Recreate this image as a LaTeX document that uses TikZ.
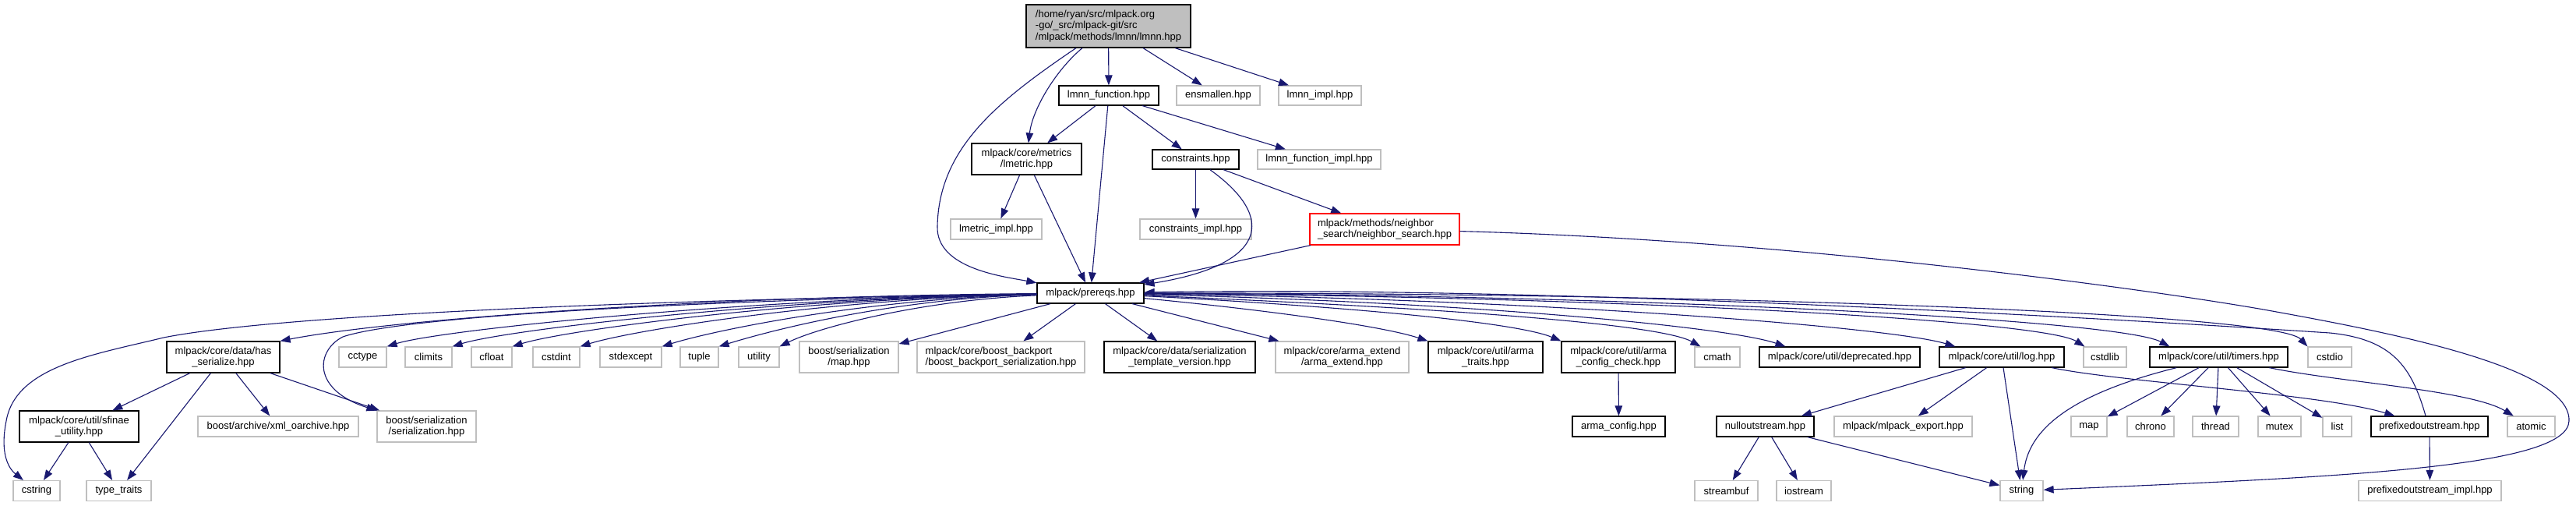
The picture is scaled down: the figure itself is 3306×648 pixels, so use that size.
\documentclass[tikz,border=0pt]{standalone}
\usepackage{fontspec}
\setmainfont{Liberation Sans}
\usetikzlibrary{arrows.meta}
\definecolor{edgeblue}{HTML}{191970}
\definecolor{greyb}{HTML}{BFBFBF}
\newcommand\nodefont{\fontsize{13pt}{14.5pt}\selectfont}
\newcommand\mknode[6]{\node[#1,minimum width=#4pt,minimum height=#5pt] (#2) at (#3) {#6};}
\tikzset{
  nb/.style={draw=black, fill=white, line width=1.2pt, inner sep=0pt, font=\nodefont, align=center},
  ng/.style={nb, draw=greyb},
  nr/.style={nb, draw=red},
  nroot/.style={nb, fill=greyb, draw=black},
  edge/.style={draw=edgeblue, line width=1.1pt, -{Triangle[length=13pt,width=9.5pt]}},
}
\begin{document}
\begin{tikzpicture}[x=1pt,y=-1pt]
\fill[white] (0,0) rectangle (3306,648);
\useasboundingbox (0,0) rectangle (3306,648);
% rows 0-4
\mknode{nroot,align=left}{root}{1422.5,33.5}{211}{55}{/home/ryan/src/mlpack.org\\-go/\_src/mlpack-git/src\\/mlpack/methods/lmnn/lmnn.hpp}
\mknode{nb}{lmnnfun}{1423,122.5}{128}{25}{lmnn\_function.hpp}
\mknode{ng}{ensmallen}{1563.5,122.5}{107}{25}{ensmallen.hpp}
\mknode{ng}{lmnnimpl}{1694,122.5}{106}{25}{lmnn\_impl.hpp}
\mknode{nb}{lmetric}{1317.5,204}{141}{40}{mlpack/core/metrics\\/lmetric.hpp}
\mknode{nb}{constraints}{1534.5,204.5}{111}{25}{constraints.hpp}
\mknode{ng}{lmnnfunimpl}{1693,204.5}{158}{25}{lmnn\_function\_impl.hpp}
\mknode{ng}{lmetricimpl}{1278.5,294}{117}{26}{lmetric\_impl.hpp}
\mknode{ng}{constraintsimpl}{1534.5,294}{143}{26}{constraints\_impl.hpp}
\mknode{nr,align=left}{neighbor}{1777,294}{192}{40}{mlpack/methods/neighbor\\\_search/neighbor\_search.hpp}
\mknode{nb}{prereqs}{1399.5,376}{137}{26}{mlpack/prereqs.hpp}
% row 5
\mknode{nb}{has}{286.5,458}{145}{40}{mlpack/core/data/has\\\_serialize.hpp}
\mknode{ng}{cctype}{465.5,458}{61}{26}{cctype}
\mknode{ng}{climits}{550,458}{60}{26}{climits}
\mknode{ng}{cfloat}{631,458}{52}{26}{cfloat}
\mknode{ng}{cstdint}{714,458}{60}{26}{cstdint}
\mknode{ng}{stdexcept}{809.5,458}{79}{26}{stdexcept}
\mknode{ng}{tuple}{897.5,458}{49}{26}{tuple}
\mknode{ng}{utility}{974,458}{52}{26}{utility}
\mknode{ng}{bmap}{1089.5,458}{127}{40}{boost/serialization\\/map.hpp}
\mknode{ng,align=left}{backport}{1284.5,458}{215}{40}{mlpack/core/boost\_backport\\/boost\_backport\_serialization.hpp}
\mknode{nb}{sertemplate}{1514,458}{194}{40}{mlpack/core/data/serialization\\\_template\_version.hpp}
\mknode{ng}{armaextend}{1722.5,458}{171}{40}{mlpack/core/arma\_extend\\/arma\_extend.hpp}
\mknode{nb}{armatraits}{1906.5,458}{147}{40}{mlpack/core/util/arma\\\_traits.hpp}
\mknode{nb}{armacfgchk}{2077,458}{146}{40}{mlpack/core/util/arma\\\_config\_check.hpp}
\mknode{ng}{cmath}{2204,458}{58}{26}{cmath}
\mknode{nb}{deprecated}{2361,458}{206}{26}{mlpack/core/util/deprecated.hpp}
\mknode{nb}{log}{2569,458}{160}{26}{mlpack/core/util/log.hpp}
\mknode{ng}{cstdlib}{2701.5,458}{55}{26}{cstdlib}
\mknode{nb}{timers}{2847.5,458}{177}{26}{mlpack/core/util/timers.hpp}
\mknode{ng}{cstdio}{2990,458}{56}{26}{cstdio}
% row 6
\mknode{nb}{sfinae}{101.5,547}{153}{40}{mlpack/core/util/sfinae\\\_utility.hpp}
\mknode{ng}{xml}{357,547}{206}{26}{boost/archive/xml\_oarchive.hpp}
\mknode{ng}{serial}{547.5,547}{127}{40}{boost/serialization\\/serialization.hpp}
\mknode{nb}{armacfg}{2077.5,547}{119}{26}{arma\_config.hpp}
\mknode{nb}{nullout}{2265.5,547}{125}{26}{nulloutstream.hpp}
\mknode{ng}{mlexport}{2442.5,547}{177}{26}{mlpack/mlpack\_export.hpp}
\mknode{ng}{map}{2681,547}{46}{26}{map}
\mknode{ng}{chrono}{2760,547}{60}{26}{chrono}
\mknode{ng}{thread}{2843.5,547}{59}{26}{thread}
\mknode{ng}{mutex}{2925.5,547}{55}{26}{mutex}
\mknode{ng}{list}{2999.5,547}{37}{26}{list}
\mknode{nb}{prefout}{3118,547}{150}{26}{prefixedoutstream.hpp}
\mknode{ng}{atomic}{3248.5,547}{61}{26}{atomic}
% row 7
\mknode{ng}{cstring}{47,629.5}{60}{26}{cstring}
\mknode{ng}{typetraits}{152.5,629.5}{83}{26}{type\_traits}
\mknode{ng}{streambuf}{2215.5,629.5}{81}{26}{streambuf}
\mknode{ng}{iostream}{2315,629.5}{70}{26}{iostream}
\mknode{ng}{string}{2594.5,629.5}{55}{26}{string}
\mknode{ng}{prefimpl}{3118.5,629.5}{183}{26}{prefixedoutstream\_impl.hpp}

% edges from root
\draw[edge] (root) -- (lmnnfun);
\draw[edge] (root) -- (ensmallen);
\draw[edge] (root) -- (lmnnimpl);
\draw[edge] (root) .. controls (1355,90) and (1325,140) .. (lmetric);
\draw[edge] (root) .. controls (1280,130) and (1205,190) .. (1203,290) .. controls (1201,345) and (1290,355) .. (prereqs);
% lmnn_function
\draw[edge] (lmnnfun) -- (lmetric);
\draw[edge] (lmnnfun) -- (prereqs);
\draw[edge] (lmnnfun) -- (constraints);
\draw[edge] (lmnnfun) -- (lmnnfunimpl);
% lmetric
\draw[edge] (lmetric) -- (lmetricimpl);
\draw[edge] (lmetric) -- (prereqs);
% constraints
\draw[edge] (constraints) -- (constraintsimpl);
\draw[edge] (constraints) .. controls (1640,280) and (1625,340) .. (prereqs);
\draw[edge] (constraints) -- (neighbor);
% neighbor search
\draw[edge] (neighbor) -- (prereqs);
\draw[edge] (neighbor) .. controls (2300,308) and (2750,370) .. (2905,397) .. controls (3060,425) and (3300,470) .. (3297,540) .. controls (3295,600) and (3000,612) .. (string);
% prereqs, left side
\draw[edge] (prereqs) .. controls (800,385) and (350,405) .. (210,433) .. controls (120,455) and (20,470) .. (8,540) .. controls (0,580) and (10,600) .. (cstring);
\draw[edge] (prereqs) .. controls (900,380) and (500,410) .. (has.north east);
\draw[edge] (prereqs) .. controls (900,385) and (520,405) .. (440,432) .. controls (405,450) and (400,500) .. (serial);
\draw[edge] (prereqs) .. controls (955,383) and (566,423) .. (cctype.north east);
\draw[edge] (prereqs) .. controls (993,383) and (650,423) .. (climits.north east);
\draw[edge] (prereqs) .. controls (1028,383) and (727,423) .. (cfloat.north east);
\draw[edge] (prereqs) .. controls (1067,383) and (814,423) .. (cstdint.north east);
\draw[edge] (prereqs) .. controls (1114,383) and (919,423) .. (stdexcept.north east);
\draw[edge] (prereqs) .. controls (1147,383) and (992,423) .. (tuple.north east);
\draw[edge] (prereqs) .. controls (1182,385) and (1050,420) .. (utility.north east);
\draw[edge] (prereqs) -- (bmap);
\draw[edge] (prereqs) -- (backport);
\draw[edge] (prereqs) -- (sertemplate);
\draw[edge] (prereqs) -- (armaextend);
% prereqs, right side
\draw[edge] (prereqs) .. controls (1650,400) and (1780,420) .. (armatraits.north west);
\draw[edge] (prereqs) .. controls (1760,395) and (1950,415) .. (armacfgchk.north west);
\draw[edge] (prereqs) .. controls (1850,395) and (2130,415) .. ([xshift=8pt]cmath.north west);
\draw[edge] (prereqs) .. controls (1900,388) and (2220,420) .. ([xshift=34pt]deprecated.north west);
\draw[edge] (prereqs) .. controls (1950,383) and (2420,418) .. ([xshift=21pt]log.north west);
\draw[edge] (prereqs) .. controls (2050,380) and (2620,410) .. ([xshift=2pt]cstdlib.north west);
\draw[edge] (prereqs) .. controls (2100,378) and (2720,410) .. ([xshift=26pt]timers.north west);
\draw[edge] (prereqs) .. controls (2150,375) and (2920,400) .. (cstdio.north west);
% has_serialize
\draw[edge] (has) -- (sfinae);
\draw[edge] (has) -- (typetraits);
\draw[edge] (has) -- (xml);
\draw[edge] (has) -- (serial);
\draw[edge] (sfinae) -- (cstring);
\draw[edge] (sfinae) -- (typetraits);
% arma
\draw[edge] (armacfgchk) -- (armacfg);
% log
\draw[edge] (log) -- (nullout);
\draw[edge] (log) -- (mlexport);
\draw[edge] (log) -- (string);
\draw[edge] (log) .. controls (2720,490) and (2980,505) .. (prefout);
% timers
\draw[edge] (timers) .. controls (2680,500) and (2605,540) .. (string);
\draw[edge] (timers) -- (map);
\draw[edge] (timers) -- (chrono);
\draw[edge] (timers) -- (thread);
\draw[edge] (timers) -- (mutex);
\draw[edge] (timers) -- (list);
\draw[edge] (timers) .. controls (3000,490) and (3170,500) .. (atomic);
% nulloutstream
\draw[edge] (nullout) -- (streambuf);
\draw[edge] (nullout) -- (iostream);
\draw[edge] (nullout) -- (string);
% prefixedoutstream
\draw[edge] (prefout) -- (prefimpl);
\draw[edge] ([xshift=-5pt]prefout.north) .. controls (3095,470) and (3070,435) .. (2990,427) .. controls (2500,395) and (1900,368) .. (prereqs);
\end{tikzpicture}
\end{document}
